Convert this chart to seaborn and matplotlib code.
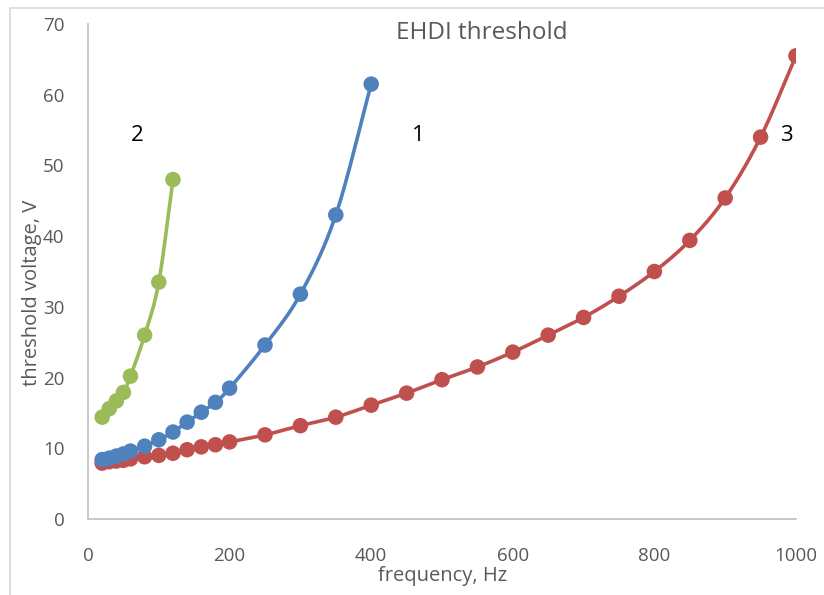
import numpy as np
import matplotlib
matplotlib.use("Agg")
import matplotlib.pyplot as plt
import seaborn as sns
from matplotlib.patches import Rectangle

# ---- data ----
freq_red = [20, 30, 40, 50, 60, 80, 100, 120, 140, 160, 180, 200, 250, 300, 350, 400,
            450, 500, 550, 600, 650, 700, 750, 800, 850, 900, 950, 1000]
volt_red = [7.9, 8.1, 8.2, 8.3, 8.5, 8.8, 9.0, 9.3, 9.8, 10.2, 10.5, 10.9, 11.9, 13.2, 14.4, 16.1,
            17.8, 19.7, 21.5, 23.6, 26.0, 28.5, 31.5, 35.0, 39.4, 45.4, 54.0, 65.5]
freq_blue = [20, 30, 40, 50, 60, 80, 100, 120, 140, 160, 180, 200, 250, 300, 350, 400]
volt_blue = [8.4, 8.6, 8.9, 9.2, 9.6, 10.3, 11.2, 12.3, 13.7, 15.1, 16.5, 18.5, 24.6, 31.8, 43.0, 61.5]
freq_green = [20, 30, 40, 50, 60, 80, 100, 120]
volt_green = [14.4, 15.6, 16.7, 17.9, 20.2, 26.0, 33.5, 48.0]

curve_labels = ["1", "2", "3"]
label_x = [466, 69, 986]
label_y = [54.2, 54.2, 54.2]

x_ticks = [0, 200, 400, 600, 800, 1000]
y_ticks = [0, 10, 20, 30, 40, 50, 60, 70]

BLUE = "#4F81BD"
RED = "#C0504D"
GREEN = "#9BBB59"


def smooth(x, y, n=20):
    """Catmull-Rom style smoothing similar to spreadsheet smoothed lines."""
    x = np.asarray(x, float)
    y = np.asarray(y, float)
    px = np.concatenate([[2 * x[0] - x[1]], x, [2 * x[-1] - x[-2]]])
    py = np.concatenate([[2 * y[0] - y[1]], y, [2 * y[-1] - y[-2]]])
    xs, ys = [], []
    t = np.linspace(0, 1, n, endpoint=False)
    for i in range(1, len(px) - 2):
        p0, p1, p2, p3 = (np.array([px[j], py[j]]) for j in (i - 1, i, i + 1, i + 2))
        c1 = p1 + (p2 - p0) / 6.0
        c2 = p2 - (p3 - p1) / 6.0
        for tt in t:
            b = ((1 - tt) ** 3) * p1 + 3 * ((1 - tt) ** 2) * tt * c1 + 3 * (1 - tt) * tt ** 2 * c2 + tt ** 3 * p2
            xs.append(b[0]); ys.append(b[1])
    xs.append(x[-1]); ys.append(y[-1])
    return np.array(xs), np.array(ys)


sns.set_theme(style="white")
plt.rcParams["font.family"] = ["Open Sans", "DejaVu Sans"]

fig = plt.figure(figsize=(8.24, 5.95), dpi=100)
ax = fig.add_axes([88 / 824, 1 - 519 / 595, (796 - 88) / 824, (519 - 24) / 595])

series = [(freq_red, volt_red, RED), (freq_blue, volt_blue, BLUE), (freq_green, volt_green, GREEN)]
for fx, vy, col in series:
    sx, sy = smooth(fx, vy)
    sns.lineplot(x=sx, y=sy, ax=ax, color=col, lw=2.6, sort=False, estimator=None, zorder=2)
    sns.scatterplot(x=fx, y=vy, ax=ax, color=col, s=125, edgecolor="none", zorder=3)

ax.set_xlim(0, 1000)
ax.set_ylim(0, 70)
ax.set_xticks(x_ticks)
ax.set_yticks(y_ticks)
ax.tick_params(axis="both", length=0, labelsize=13.5, labelcolor="#595959")
ax.tick_params(axis="y", pad=17)
ax.tick_params(axis="x", pad=20)

for s in ["top", "right"]:
    ax.spines[s].set_visible(False)
for s in ["left", "bottom"]:
    ax.spines[s].set_color("#BFBFBF")
    ax.spines[s].set_linewidth(1.2)

ax.set_xlabel("frequency, Hz", fontsize=14.5, color="#595959")
ax.set_ylabel("threshold voltage, V", fontsize=14.5, color="#595959")
ax.xaxis.set_label_coords((443 - 88) / 708, -(566 - 519) / 495)
ax.yaxis.set_label_coords(-(88 - 42) / 708, (519 - 293) / 495)

ax.text((482 - 88) / 708, (519 - 33) / 495, "EHDI threshold", transform=ax.transAxes,
        ha="center", va="center", fontsize=17.5, color="#595959")

for lab, lx, ly in zip(curve_labels, label_x, label_y):
    ax.text(lx, ly, lab, ha="center", va="center", fontsize=16, color="black",
            bbox=dict(facecolor="white", edgecolor="none", pad=5), zorder=5)

fig.patches.append(Rectangle((10 / 824, -0.1), 2.0, 1 - 8 / 595 + 0.1, transform=fig.transFigure,
                             fill=False, edgecolor="#D9D9D9", lw=1.2))

fig.savefig("out.png", dpi=100)
